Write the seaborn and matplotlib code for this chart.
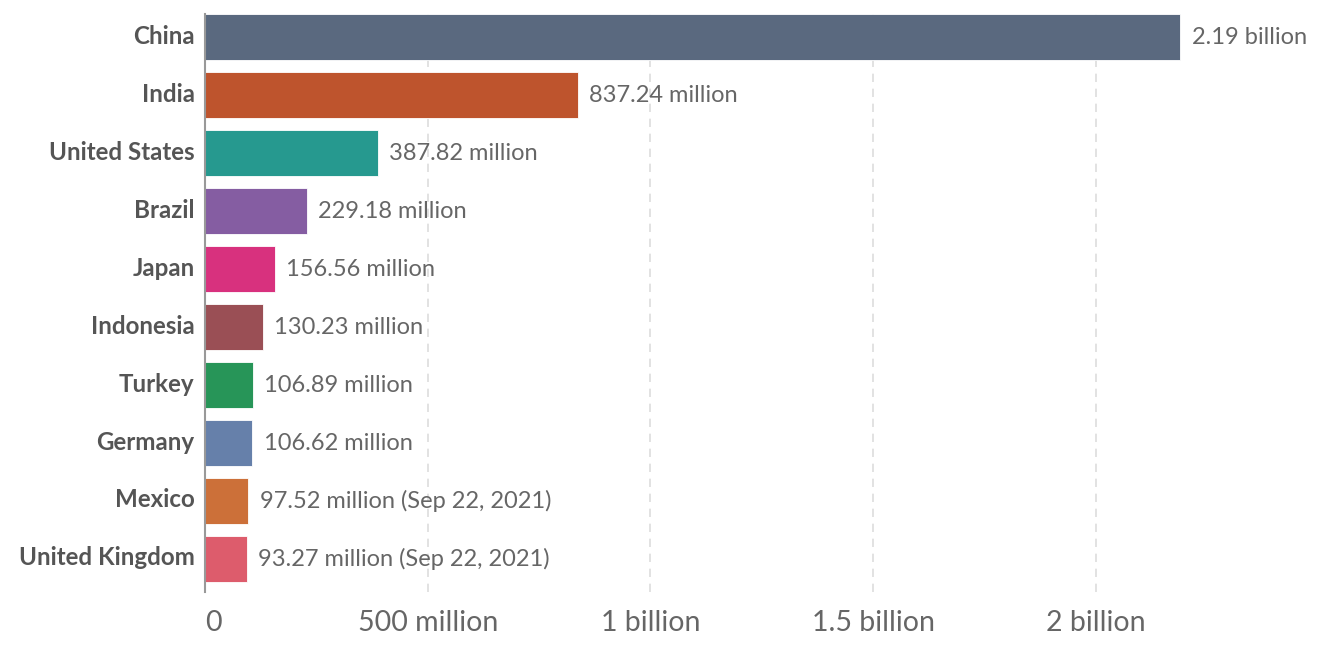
import pandas as pd
import seaborn as sns
from matplotlib import pyplot as plt
from matplotlib.transforms import ScaledTranslation

countries = ['China', 'India', 'United States', 'Brazil', 'Japan', 'Indonesia',
             'Turkey', 'Germany', 'Mexico', 'United Kingdom']
doses = [2.19e9, 837.24e6, 387.82e6, 229.18e6, 156.56e6, 130.23e6,
         106.89e6, 106.62e6, 97.52e6, 93.27e6]
value_labels = ['2.19 billion', '837.24 million', '387.82 million', '229.18 million',
                '156.56 million', '130.23 million', '106.89 million', '106.62 million',
                '97.52 million (Sep 22, 2021)', '93.27 million (Sep 22, 2021)']
bar_colors = ['#5a697f', '#be542d', '#26998f', '#855da2', '#d8317e', '#9a4f55',
              '#279558', '#6680aa', '#cc7039', '#dd5c6c']
tick_values = [0, 5e8, 1e9, 1.5e9, 2e9]
tick_labels = ['0', '500 million', '1 billion', '1.5 billion', '2 billion']

df = pd.DataFrame({'country': countries, 'doses': doses})

sns.set_style('white')
plt.rcParams['font.family'] = ['Lato', 'DejaVu Sans']

fig = plt.figure(figsize=(13.26, 6.45), dpi=100)
ax = fig.add_axes([205 / 1326, 53 / 645, 1105 / 1326, 578 / 645])

sns.barplot(data=df, x='doses', y='country', hue='country', palette=bar_colors,
            saturation=1, orient='h', width=0.79, legend=False, ax=ax, zorder=3,
            edgecolor='white', linewidth=0.6)

# nudge text up a few pixels to match the reference
lift_values = ScaledTranslation(0, 3 / 100, fig.dpi_scale_trans)
lift_names = ScaledTranslation(0, 1 / 100, fig.dpi_scale_trans)

for container, lab in zip(ax.containers, value_labels):
    texts = ax.bar_label(container, labels=[lab], padding=8, fontsize=17, color='#666666')
    for t in texts:
        t.set_verticalalignment('center')
        t.set_transform(t.get_transform() + lift_values)

ax.set_xlim(0, 1105 / 445.4 * 1e9)
ax.set_ylim(9.57, -0.4)
ax.set_xticks(tick_values)
ax.set_xticklabels(tick_labels, fontsize=20.5, color='#666666')
ax.get_xticklabels()[0].set_horizontalalignment('left')
ax.tick_params(axis='x', length=0, pad=13)
ax.tick_params(axis='y', length=0, pad=7.5)
for lbl in ax.get_yticklabels():
    lbl.set_fontsize(17.4)
    lbl.set_fontweight('bold')
    lbl.set_color('#555555')
    lbl.set_verticalalignment('center')
    lbl.set_transform(lbl.get_transform() + lift_names)
ax.set_xlabel('')
ax.set_ylabel('')
ax.grid(axis='x', color='#dddddd', linestyle=(0, (5, 4)), linewidth=1.2, zorder=0)
for side in ['top', 'right', 'bottom']:
    ax.spines[side].set_visible(False)
ax.spines['left'].set_color('#999999')
ax.spines['left'].set_linewidth(1.5)
ax.spines['left'].set_zorder(4)

fig.savefig('out.png', dpi=100)
